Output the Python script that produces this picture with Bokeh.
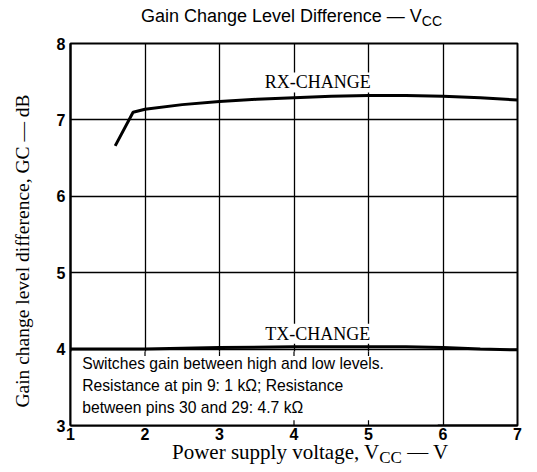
from bokeh.plotting import figure
from bokeh.models import Range1d, FixedTicker, Label, Div
from bokeh.layouts import column, row
from bokeh.embed import file_html
from bokeh.resources import INLINE

# ---- data ----
rx_x = [1.60, 1.84, 2.0, 2.5, 3.0, 3.5, 4.0, 4.5, 5.0, 5.5, 6.0, 6.5, 7.0]
rx_y = [6.66, 7.10, 7.14, 7.20, 7.24, 7.27, 7.29, 7.31, 7.32, 7.32, 7.31, 7.29, 7.26]
tx_x = [1.0, 2.0, 3.0, 4.0, 5.0, 5.5, 6.0, 6.5, 7.0]
tx_y = [4.00, 4.00, 4.02, 4.03, 4.03, 4.03, 4.02, 4.00, 3.99]
x_ticks = [1, 2, 3, 4, 5, 6, 7]
y_ticks = [3, 4, 5, 6, 7, 8]
title_main = "Gain Change Level Difference \u2014 V"
title_sub = "CC"
xlabel_main = "Power supply voltage, V"
xlabel_sub = "CC"
xlabel_tail = " \u2014 V"
ylabel = "Gain change level difference, GC \u2014 dB"
rx_label = "RX-CHANGE"
tx_label = "TX-CHANGE"
note_lines = ["Switches gain between high and low levels.",
              "Resistance at pin 9: 1 k\u03a9; Resistance",
              "between pins 30 and 29: 4.7 k\u03a9"]
note_box = (1.0, 5.93, 3.0, 3.97)   # x0, x1, y0, y1 of the note's white box
note_ticks_top = [2, 3, 4, 5]
note_ticks_bottom = [4, 5]

TOTAL_W = 529
TITLE_H = 30
YLAB_W = 40
FIG_W = TOTAL_W - YLAB_W
FIG_H = 415
XLAB_H = 25

serif = "Liberation Serif"
sans = "Liberation Sans"

p = figure(width=FIG_W, height=FIG_H, output_backend="svg", toolbar_location=None,
           x_range=Range1d(1, 7), y_range=Range1d(3, 8),
           min_border_left=30, min_border_right=12, min_border_top=13,
           min_border_bottom=20)
p.background_fill_color = "white"
p.border_fill_color = "white"
p.outline_line_color = "black"
p.outline_line_width = 2

for ax, ticks in ((p.xaxis, x_ticks), (p.yaxis, y_ticks)):
    ax.ticker = FixedTicker(ticks=ticks)
    ax.major_tick_out = 0
    ax.major_tick_in = 0
    ax.minor_tick_out = 0
    ax.minor_tick_in = 0
    ax.axis_line_color = "black"
    ax.axis_line_width = 2
    ax.major_label_text_font = sans
    ax.major_label_text_font_style = "bold"
    ax.major_label_text_font_size = "16px"
    ax.major_label_text_color = "black"
p.xaxis.major_label_standoff = 2
p.yaxis.major_label_standoff = 5

p.xgrid.ticker = FixedTicker(ticks=x_ticks)
p.ygrid.ticker = FixedTicker(ticks=y_ticks)
for g in (p.xgrid, p.ygrid):
    g.grid_line_color = "black"
    g.grid_line_alpha = 1.0
    g.grid_line_width = 1.3

# note box covering the grid (glyph level: above the grid, below the curves)
p.quad(left=[note_box[0]], right=[note_box[1]], bottom=[note_box[2]], top=[note_box[3]],
       fill_color="white", line_color=None)
p.segment(x0=note_ticks_top, x1=note_ticks_top, y0=[note_box[3]] * len(note_ticks_top),
          y1=[3.91] * len(note_ticks_top), line_color="black", line_width=1.2)
p.segment(x0=note_ticks_bottom, x1=note_ticks_bottom, y0=[3.0] * len(note_ticks_bottom),
          y1=[3.07] * len(note_ticks_bottom), line_color="black", line_width=1.2)

p.line(rx_x, rx_y, line_color="black", line_width=3)
p.line(tx_x, tx_y, line_color="black", line_width=3)


def lab(x, y, text, font, size, align="left", baseline="middle", bg=None):
    p.add_layout(Label(x=x, y=y, text=text, text_font=font, text_font_size=size,
                       text_align=align, text_baseline=baseline, text_color="black",
                       background_fill_color=bg))


lab(4.32, 7.49, rx_label, serif, "18px", align="center", bg="white")
lab(4.32, 4.20, tx_label, serif, "18px", align="center", bg="white")
for t, yy in zip(note_lines, [3.81, 3.52, 3.23]):
    lab(1.157, yy, t, sans, "15.7px")

title_div = Div(width=TOTAL_W, height=TITLE_H, margin=0, text=(
    f'<div style="position:relative;width:{TOTAL_W}px;height:{TITLE_H}px;">'
    f'<span style="position:absolute;left:141px;top:7px;white-space:nowrap;'
    f"font-family:'{sans}';font-size:18px;line-height:18px;color:black;\">"
    f'{title_main}<span style="font-size:14px;position:relative;top:4px;">{title_sub}</span>'
    f'</span></div>'))

ylab_div = Div(width=YLAB_W, height=FIG_H, margin=0, text=(
    f'<div style="position:relative;width:{YLAB_W}px;height:{FIG_H}px;">'
    f'<span style="position:absolute;left:23px;top:221px;white-space:nowrap;'
    f'transform:translate(-50%,-50%) rotate(-90deg);'
    f"font-family:'{serif}';font-size:19.5px;line-height:20px;color:black;\">"
    f'{ylabel}</span></div>'))

xlab_div = Div(width=TOTAL_W, height=XLAB_H, margin=0, text=(
    f'<div style="position:relative;width:{TOTAL_W}px;height:{XLAB_H}px;">'
    f'<span style="position:absolute;left:172px;top:-3px;white-space:nowrap;'
    f"font-family:'{serif}';font-size:21px;line-height:21px;color:black;\">"
    f'{xlabel_main}<span style="font-size:17px;position:relative;top:4px;">{xlabel_sub}</span>'
    f'{xlabel_tail}</span></div>'))

layout = column(title_div, row(ylab_div, p, spacing=0), xlab_div, spacing=0)

open("out.html", "w").write(file_html(layout, INLINE))
